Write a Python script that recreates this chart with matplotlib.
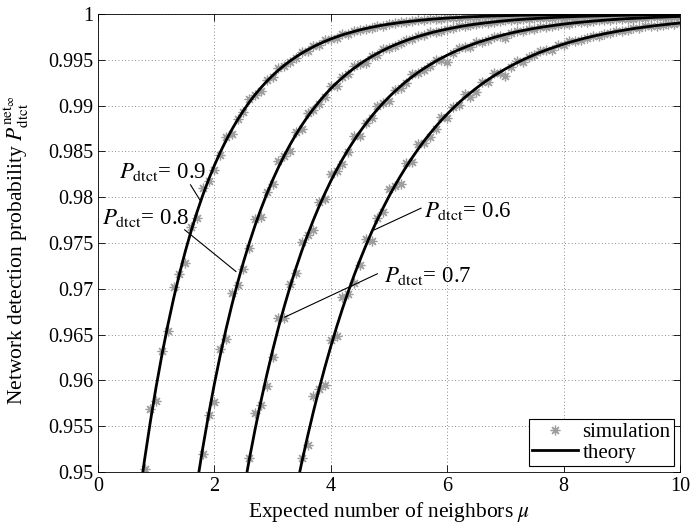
import numpy as np
import matplotlib
matplotlib.use("Agg")
import matplotlib.pyplot as plt

plt.rcParams['font.family'] = ['Liberation Serif', 'DejaVu Serif']
plt.rcParams['mathtext.fontset'] = 'stix'

# simulation: mu step 0.1, first mu given
sim_start = {0.9: 0.8, 0.8: 1.8, 0.7: 2.6, 0.6: 3.5}
sim_09 = [.95035, .95685, .95772, .96321, .96536, .97020, .97163, .97278, .97678, .97770,
          .98100, .98173, .98297, .98459, .98661, .98688, .98858, .98925, .99075, .99120,
          .99155, .99279, .99308, .99410, .99433, .99472, .99522, .99584, .99593, .99646,
          .99666, .99713, .99727, .99738, .99776, .99785, .99817, .99824, .99836, .99852,
          .99871, .99874, .99890, .99896, .99911, .99915, .99919, .99931, .99933, .99943,
          .99945, .99949, .99954, .99960, .99961, .99966, .99968, .99972, .99974, .99975,
          .99975, .99979, .99983, .99981, .99986, .99989, .99985, .99988, .99986, .99991,
          .99990, .99993, .99996, .99991, .99994, .99990, .99997, .99995, .99993, .99999,
          .99996, .99998, .99994, .99993, .99999, .99997, .99996, 1.0, .99997, .99999,
          .99995, .99999, 1.0]
sim_08 = [.95200, .95626, .95760, .96347, .96456, .96951, .97039, .97212, .97451, .97763,
          .97786, .98054, .98149, .98392, .98454, .98501, .98709, .98747, .98922, .98953,
          .99015, .99099, .99209, .99217, .99312, .99346, .99432, .99454, .99470, .99544,
          .99557, .99619, .99630, .99652, .99682, .99720, .99723, .99757, .99769, .99799,
          .99807, .99813, .99839, .99843, .99865, .99869, .99877, .99887, .99901, .99902,
          .99914, .99918, .99929, .99932, .99934, .99943, .99945, .99952, .99954, .99957,
          .99960, .99965, .99961, .99969, .99971, .99975, .99980, .99977, .99980, .99980,
          .99983, .99979, .99985, .99986, .99988, .99992, .99989, .99990, .99986, .99992,
          .99992, .99993, .99996]
sim_07 = [.95150, .95649, .95732, .95942, .96253, .96677, .96678, .97052, .97168, .97515,
          .97586, .97637, .97944, .97985, .98249, .98282, .98366, .98492, .98663, .98663,
          .98813, .98860, .99000, .99028, .99049, .99172, .99189, .99244, .99343, .99355,
          .99387, .99434, .99498, .99498, .99478, .99572, .99625, .99635, .99643, .99689,
          .99696, .99716, .99753, .99758, .99736, .99788, .99812, .99812, .99833, .99839,
          .99859, .99863, .99866, .99883, .99886, .99894, .99907, .99909, .99914, .99920,
          .99929, .99929, .99937, .99940, .99947, .99949, .99950, .99956, .99957, .99963,
          .99963, .99965, .99968, .99972, .99972]
sim_06 = [.95151, .95295, .95829, .95909, .95954, .96444, .96480, .96910, .96939, .97060,
          .97258, .97544, .97520, .97777, .97843, .98088, .98125, .98145, .98370, .98386,
          .98584, .98597, .98652, .98743, .98874, .98863, .98981, .99011, .99124, .99095,
          .99150, .99253, .99260, .99351, .99357, .99324, .99424, .99484, .99479, .99533,
          .99547, .99598, .99606, .99610, .99658, .99661, .99702, .99705, .99717, .99736,
          .99763, .99761, .99786, .99792, .99816, .99819, .99821, .99843, .99845, .99864,
          .99865, .99870, .99879, .99892, .99891, .99902]

# theory: mu step 0.1, first mu given
th_start = {0.9: 0.7, 0.8: 1.7, 0.7: 2.5, 0.6: 3.4}
th_09 = [.94674, .95133, .95551, .95934, .96284, .96604, .96896, .97163, .97408, .97631,
         .97835, .98021, .98191, .98347, .98489, .98619, .98738, .98847, .98946, .99037,
         .99120, .99195, .99265, .99328, .99386, .99439, .99487, .99531, .99572, .99608,
         .99642, .99673, .99701, .99727, .99750, .99772, .99791, .99809, .99826, .99841,
         .99855, .99867, .99879, .99889, .99898, .99907, .99915, .99922, .99929, .99935,
         .99941, .99946, .99951, .99955, .99959, .99962, .99966, .99969, .99971, .99974,
         .99976, .99978, .99980, .99982, .99983, .99985, .99986, .99987, .99988, .99989,
         .99990, .99991, .99992, .99993, .99993, .99994, .99994, .99995, .99995, .99996,
         .99996, .99996, .99997, .99997, .99997, .99998, .99998, .99998, .99998, .99998,
         .99999, .99999, .99999, .99999]
th_08 = [.94867, .95261, .95626, .95962, .96273, .96559, .96824, .97068, .97293, .97501,
         .97694, .97871, .98035, .98186, .98325, .98454, .98573, .98683, .98784, .98877,
         .98964, .99043, .99117, .99185, .99248, .99305, .99359, .99408, .99454, .99496,
         .99534, .99570, .99603, .99634, .99662, .99688, .99712, .99734, .99754, .99773,
         .99791, .99807, .99822, .99835, .99848, .99860, .99871, .99881, .99890, .99898,
         .99906, .99913, .99920, .99926, .99932, .99937, .99942, .99946, .99950, .99954,
         .99958, .99961, .99964, .99967, .99969, .99972, .99974, .99976, .99978, .99979,
         .99981, .99983, .99984, .99985, .99986, .99987, .99988, .99989, .99990, .99991,
         .99992, .99992, .99993, .99993]
th_07 = [.94787, .95139, .95468, .95774, .96060, .96326, .96575, .96806, .97022, .97223,
         .97411, .97586, .97749, .97902, .98043, .98176, .98299, .98414, .98521, .98621,
         .98714, .98801, .98882, .98958, .99028, .99094, .99155, .99212, .99266, .99315,
         .99362, .99405, .99445, .99483, .99518, .99550, .99581, .99609, .99635, .99660,
         .99683, .99704, .99724, .99743, .99760, .99777, .99792, .99806, .99819, .99831,
         .99843, .99853, .99863, .99872, .99881, .99889, .99897, .99904, .99910, .99916,
         .99922, .99927, .99932, .99937, .99941, .99945, .99949, .99952, .99955, .99958,
         .99961, .99964, .99966, .99969, .99971, .99973]
th_06 = [.94799, .95102, .95387, .95656, .95909, .96147, .96371, .96583, .96782, .96969,
         .97146, .97312, .97468, .97616, .97755, .97885, .98009, .98125, .98234, .98337,
         .98433, .98525, .98611, .98692, .98768, .98840, .98907, .98971, .99031, .99087,
         .99140, .99190, .99238, .99282, .99324, .99363, .99400, .99435, .99468, .99499,
         .99528, .99556, .99582, .99606, .99629, .99650, .99671, .99690, .99708, .99725,
         .99741, .99756, .99770, .99784, .99796, .99808, .99819, .99830, .99840, .99849,
         .99858, .99866, .99874, .99881, .99888, .99895, .99901]

sims = {0.9: sim_09, 0.8: sim_08, 0.7: sim_07, 0.6: sim_06}
ths = {0.9: th_09, 0.8: th_08, 0.7: th_07, 0.6: th_06}

# label text position, pointer line (from, to)
labels = {0.9: ((0.36, 0.98276), (1.59, 0.98135), (1.75, 0.97971)),
          0.8: ((0.07, 0.97775), (1.49, 0.97644), (2.37, 0.97189)),
          0.6: ((5.61, 0.97851), (5.55, 0.97880), (4.75, 0.97644)),
          0.7: ((4.92, 0.97142), (4.80, 0.97164), (3.21, 0.96691))}

fig = plt.figure(figsize=(6.9, 5.31), dpi=100)
ax = fig.add_axes([0.142, 0.111, 0.8435, 0.8627])

star = (8, 2, 0)  # asterisk like matlab '*'
for i, pd_ in enumerate([0.9, 0.8, 0.7, 0.6]):
    y = np.array(sims[pd_])
    x = sim_start[pd_] + 0.1 * np.arange(len(y))
    ax.plot(x, y, linestyle='none', marker=star, color='0.62', markersize=7,
            markeredgewidth=0.9, zorder=2, label='simulation' if i == 0 else None)
for i, pd_ in enumerate([0.9, 0.8, 0.7, 0.6]):
    y = np.array(ths[pd_])
    x = th_start[pd_] + 0.1 * np.arange(len(y))
    ax.plot(x, y, 'k-', linewidth=2, zorder=3, label='theory' if i == 0 else None)

for pd_, (txt, p0, p1) in labels.items():
    ax.plot([p0[0], p1[0]], [p0[1], p1[1]], 'k-', linewidth=0.8, zorder=4)
    ax.text(txt[0], txt[1], r'$P_{\mathrm{dtct}}$= %g' % pd_, fontsize=16.5,
            va='center', ha='left', zorder=5)

ax.set_xlim(0, 10)
ax.set_ylim(0.95, 1)
ax.set_xticks([0, 2, 4, 6, 8, 10])
ax.set_yticks(np.arange(0.95, 1.0001, 0.005))
ax.set_yticklabels(['0.95', '0.955', '0.96', '0.965', '0.97', '0.975',
                    '0.98', '0.985', '0.99', '0.995', '1'])
ax.tick_params(direction='in', top=True, right=True, labelsize=14.5, length=5, width=0.6)
ax.grid(True, linestyle=(0, (1, 3)), color='0.4', linewidth=0.6)
for s in ax.spines.values():
    s.set_linewidth(0.6)

ax.set_xlabel(r'Expected number of neighbors $\mu$', fontsize=15.5, labelpad=3)
ax.set_ylabel(r'Network detection probability $P_{\mathrm{dtct}}^{\mathrm{net}_{\infty}}$',
              fontsize=15.5)
ax.yaxis.set_label_coords(-0.115, 0.485)

leg = ax.legend(loc='lower right', fontsize=15, fancybox=False, framealpha=1,
                edgecolor='k', handlelength=2.2, borderpad=0.15, labelspacing=0.05,
                handletextpad=0.2, borderaxespad=0.3)
leg.get_frame().set_linewidth(0.8)

fig.savefig('out.png', dpi=100)
